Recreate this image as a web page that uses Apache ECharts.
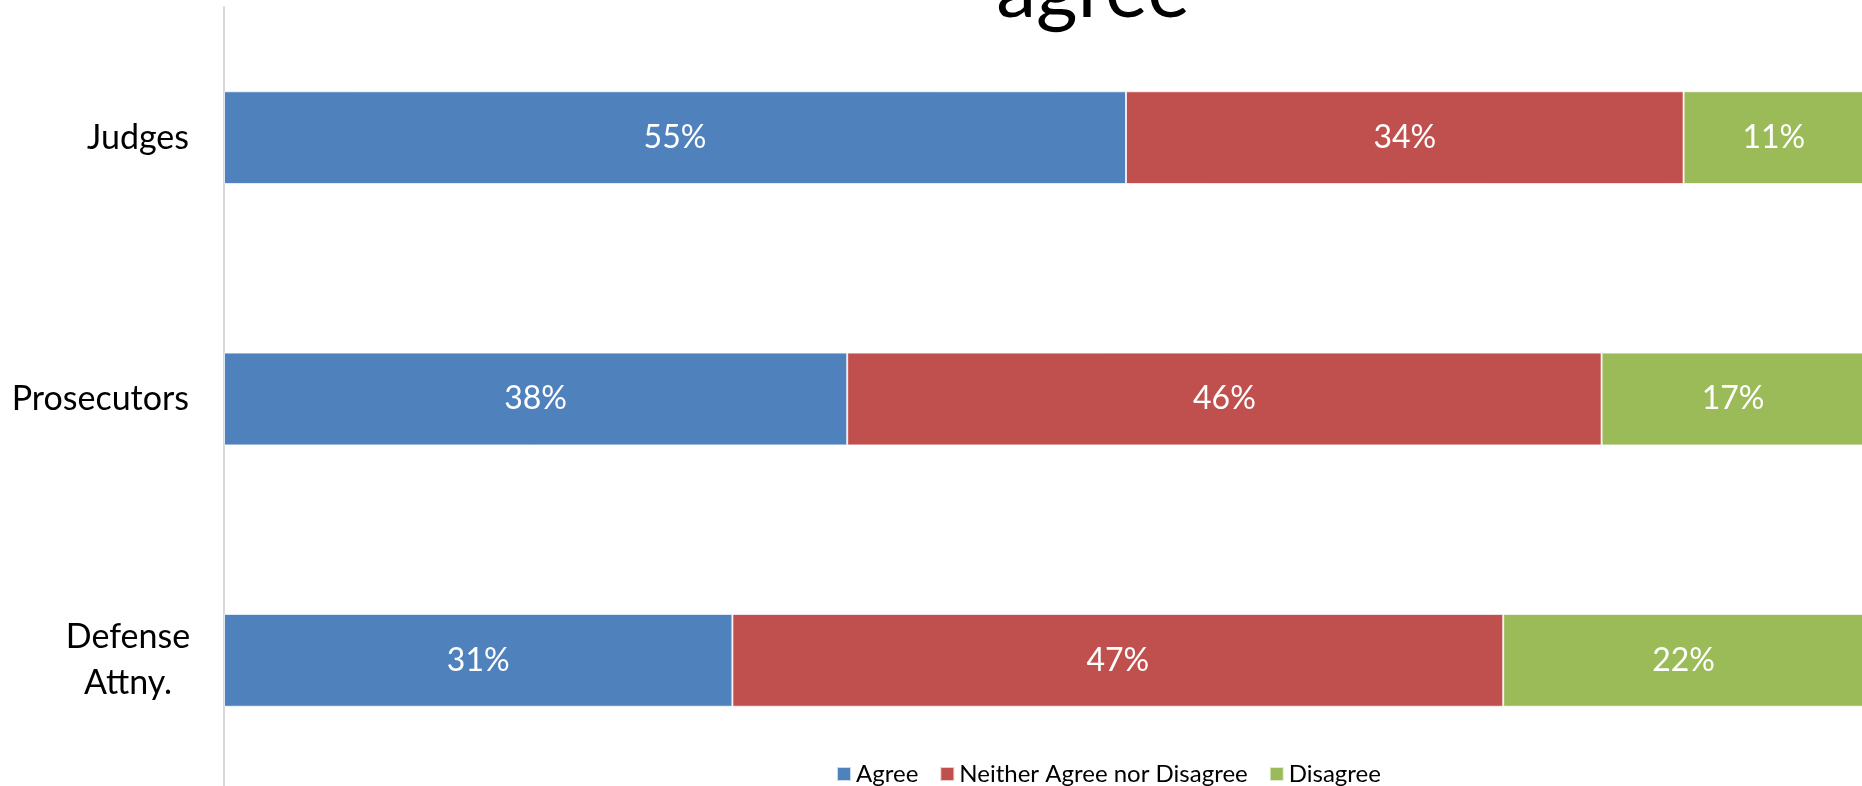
<!DOCTYPE html>
<html>
<head>
<meta charset="utf-8">
<script src="https://cdn.jsdelivr.net/npm/echarts@6/dist/echarts.min.js"></script>
<style>
  html, body { margin: 0; padding: 0; background: #fff; }
  #chart { width: 1862px; height: 786px; }
</style>
</head>
<body>
<div id="chart"></div>
<script>
// Survey responses by role (percent of respondents)
const categories = ['Judges', 'Prosecutors', 'Defense Attny.'];
const seriesNames = ['Agree', 'Neither Agree nor Disagree', 'Disagree'];
const agree = [55, 38, 31];
const neither = [34, 46, 47];
const disagree = [11, 17, 22];
const colors = ['#4F81BD', '#C0504D', '#9BBB59'];

const font = 'Lato, "Liberation Sans", sans-serif';

function makeSeries(name, data, color) {
  return {
    name: name,
    type: 'bar',
    stack: 'total',
    data: data,
    barCategoryGap: '64.5%',
    itemStyle: { color: color, borderColor: 'rgba(255,255,255,0.7)', borderWidth: 1 },
    label: {
      show: true,
      position: 'inside',
      formatter: '{c}%',
      color: '#fff',
      fontFamily: font,
      fontSize: 32
    },
    emphasis: { disabled: true }
  };
}

const chart = echarts.init(document.getElementById('chart'), null, { renderer: 'canvas' });
chart.setOption({
  animation: false,
  title: {
    text: 'agree',
    left: 1088,
    textAlign: 'center',
    top: -54,
    textStyle: { fontFamily: font, fontSize: 80, fontWeight: 'normal', color: '#000' }
  },
  legend: {
    data: seriesNames,
    left: 831,
    top: 757,
    icon: 'rect',
    itemWidth: 14,
    itemHeight: 14,
    itemGap: 21,
    textStyle: { fontFamily: font, fontSize: 24, color: '#000' }
  },
  grid: {
    left: 224,
    right: -2,
    top: 7,
    height: 784,
    containLabel: false,
    outerBoundsMode: 'none'
  },
  xAxis: {
    type: 'value',
    min: 0,
    max: 100,
    show: false
  },
  yAxis: {
    type: 'category',
    data: categories,
    inverse: true,
    axisLine: { show: true, lineStyle: { color: '#d9d9d9', width: 2 } },
    axisTick: { show: false },
    axisLabel: {
      margin: 35,
      color: '#000',
      fontFamily: font,
      fontSize: 34,
      lineHeight: 46,
      formatter: function (v) {
        const parts = v.split(' ');
        if (parts.length > 1) {
          return parts.map(p => '{c|' + p + '}').join('\n');
        }
        return v;
      },
      rich: {
        c: { width: 122, align: 'center', fontFamily: font, fontSize: 34, color: '#000', lineHeight: 46 }
      }
    }
  },
  series: [
    makeSeries(seriesNames[0], agree, colors[0]),
    makeSeries(seriesNames[1], neither, colors[1]),
    makeSeries(seriesNames[2], disagree, colors[2])
  ]
});
</script>
</body>
</html>
